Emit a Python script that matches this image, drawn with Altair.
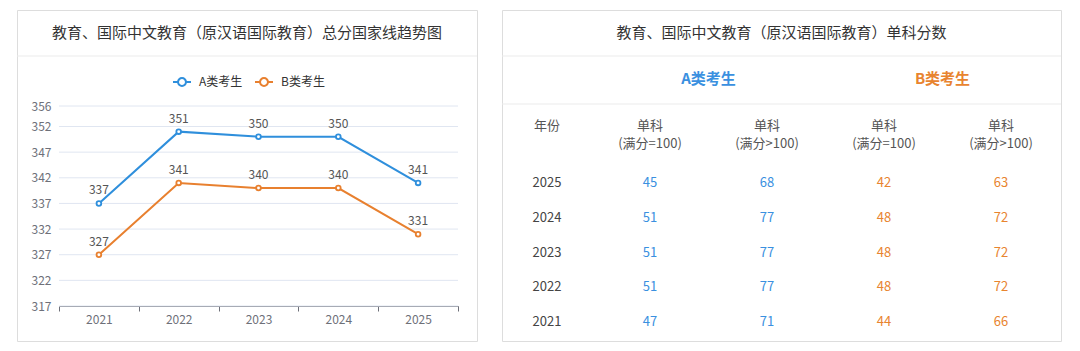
import altair as alt
import pandas as pd

FONT = "Noto Sans CJK SC"

# ---------------- data ----------------
years = ["2021", "2022", "2023", "2024", "2025"]
series_names = ["A类考生", "B类考生"]
a_total = [337, 351, 350, 350, 341]
b_total = [327, 341, 340, 340, 331]
y_ticks = [317, 322, 327, 332, 337, 342, 347, 352, 356]

left_title = "教育、国际中文教育（原汉语国际教育）总分国家线趋势图"
right_title = "教育、国际中文教育（原汉语国际教育）单科分数"

table_years = ["2025", "2024", "2023", "2022", "2021"]
a_eq100 = [45, 51, 51, 51, 47]
a_gt100 = [68, 77, 77, 77, 71]
b_eq100 = [42, 48, 48, 48, 44]
b_gt100 = [63, 72, 72, 72, 66]
head_line1 = ["年份", "单科", "单科", "单科", "单科"]
head_line2 = ["", "(满分=100)", "(满分>100)", "(满分=100)", "(满分>100)"]
col_groups = ["year", "A", "A", "B", "B"]
group_titles = ["A类考生", "B类考生"]

BLUE = "#2f8fdc"
ORANGE = "#e8802f"
TBL_BLUE = "#3a90e0"
TBL_ORANGE = "#e8842f"

# ---------------- left panel: line chart ----------------
line_df = pd.DataFrame({
    "year": years * 2,
    "score": a_total + b_total,
    "series": [series_names[0]] * len(years) + [series_names[1]] * len(years),
})

xs = alt.Scale(type="band", domain=years, range=[42, 441], paddingInner=0, paddingOuter=0)
ys = alt.Scale(domain=[317, 356], range=[296, 96], nice=False, zero=False)
cs = alt.Scale(domain=series_names, range=[BLUE, ORANGE])

x_axis = alt.Axis(title=None, tickBand="extent", labelAngle=0, domainColor="#6e7079",
                  tickColor="#6e7079", tickSize=5, labelColor="#6e7079", labelFontSize=12,
                  labelPadding=3, offset=-35, grid=False, labelFont=FONT)
y_axis = alt.Axis(values=y_ticks, title=None, domain=False, ticks=False, tickSize=0, grid=False,
                  labelColor="#6e7079", labelFontSize=12, labelPadding=8, offset=-42,
                  labelFont=FONT)

SYMBOL = ("M-1,0L-0.44,0M0.44,0A0.44,0.44,0,1,1,-0.44,0A0.44,0.44,0,1,1,0.44,0"
          "M0.44,0L1,0")
legend = alt.Legend(orient="none", legendX=155, legendY=62, direction="horizontal", title=None,
                    symbolType=SYMBOL, symbolSize=324, symbolStrokeWidth=2,
                    symbolFillColor="white", labelFont=FONT, labelFontSize=12,
                    labelColor="#333333", labelOffset=7, columnPadding=8)

X = alt.X("year:N", scale=xs, axis=x_axis)
Y = alt.Y("score:Q", scale=ys, axis=y_axis)
C = alt.Color("series:N", scale=cs, legend=legend)

title_l = alt.Chart(pd.DataFrame({"t": [left_title]})).mark_text(
    font=FONT, fontSize=15, color="#333333", align="center", baseline="middle"
).encode(x=alt.value(230), y=alt.value(23), text="t:N")

sep_l = alt.Chart(pd.DataFrame({"a": [0]})).mark_rule(color="#ebebeb", strokeWidth=1).encode(
    x=alt.value(0), x2=alt.value(460), y=alt.value(46))

grid = alt.Chart(pd.DataFrame({"score": y_ticks})).mark_rule(color="#e0e6f1", strokeWidth=1).encode(
    y=Y, x=alt.value(42), x2=alt.value(441))

line = alt.Chart(line_df).mark_line(strokeWidth=2).encode(x=X, y=Y, color=C)

pts = alt.Chart(line_df).mark_point(filled=False, fill="white", size=22, strokeWidth=1.8,
                                    opacity=1).encode(x=X, y=Y, color=C)

lbl = alt.Chart(line_df).mark_text(dy=-13, fontSize=12, color="#555555", font=FONT).encode(
    x=X, y=Y, text="score:Q")

left = alt.layer(title_l, sep_l, grid, line, pts, lbl).properties(width=460, height=331)

# ---------------- right panel: table ----------------
row_index = {"h1": 0, "h2": 1}
for i, y in enumerate(table_years):
    row_index[y] = 2 + i

cells = []
for c in range(5):
    cells.append({"col": c, "row": row_index["h1"], "txt": head_line1[c], "grp": "head"})
    if head_line2[c]:
        cells.append({"col": c, "row": row_index["h2"], "txt": head_line2[c], "grp": "head"})
value_cols = [a_eq100, a_gt100, b_eq100, b_gt100]
for i, y in enumerate(table_years):
    cells.append({"col": 0, "row": row_index[y], "txt": y, "grp": "year"})
    for c, vals in enumerate(value_cols, start=1):
        cells.append({"col": c, "row": row_index[y], "txt": str(vals[i]), "grp": col_groups[c]})
table_df = pd.DataFrame(cells)

group_df = pd.DataFrame({"col": [1.5, 3.5], "txt": group_titles, "grp": ["A", "B"]})

txs = alt.Scale(domain=[0, 1, 4], range=[45, 148, 499], nice=False, zero=False)
tys = alt.Scale(domain=[0, 1, 2, 6], range=[116, 134, 173, 312], nice=False, zero=False)
tcs = alt.Scale(domain=["head", "year", "A", "B"],
                range=["#555555", "#444444", TBL_BLUE, TBL_ORANGE])

title_r = alt.Chart(pd.DataFrame({"t": [right_title]})).mark_text(
    font=FONT, fontSize=15, color="#333333", align="center", baseline="middle"
).encode(x=alt.value(279.5), y=alt.value(23), text="t:N")

sep_r1 = alt.Chart(pd.DataFrame({"a": [0]})).mark_rule(color="#ebebeb", strokeWidth=1).encode(
    x=alt.value(0), x2=alt.value(559), y=alt.value(46))
sep_r2 = alt.Chart(pd.DataFrame({"a": [0]})).mark_rule(color="#ebebeb", strokeWidth=1).encode(
    x=alt.value(0), x2=alt.value(559), y=alt.value(94))

groups = alt.Chart(group_df).mark_text(font=FONT, fontSize=15, fontWeight="bold",
                                        baseline="middle").encode(
    x=alt.X("col:Q", scale=txs, axis=None),
    y=alt.value(69),
    text="txt:N",
    color=alt.Color("grp:N", scale=tcs, legend=None))

table = alt.Chart(table_df).mark_text(font=FONT, fontSize=13, baseline="middle").encode(
    x=alt.X("col:Q", scale=txs, axis=None),
    y=alt.Y("row:Q", scale=tys, axis=None),
    text="txt:N",
    color=alt.Color("grp:N", scale=tcs, legend=None))

right = alt.layer(title_r, sep_r1, sep_r2, groups, table).properties(width=559, height=331)

chart = alt.hconcat(left, right, spacing=23).resolve_scale(
    x="independent", y="independent", color="independent"
).properties(
    padding={"left": 16, "top": 9, "right": 0, "bottom": 0},
    background="white",
).configure_view(stroke="#e3e3e3", cornerRadius=4).configure(font=FONT)

chart.save("out.html", embed_options={"renderer": "svg", "actions": False})
